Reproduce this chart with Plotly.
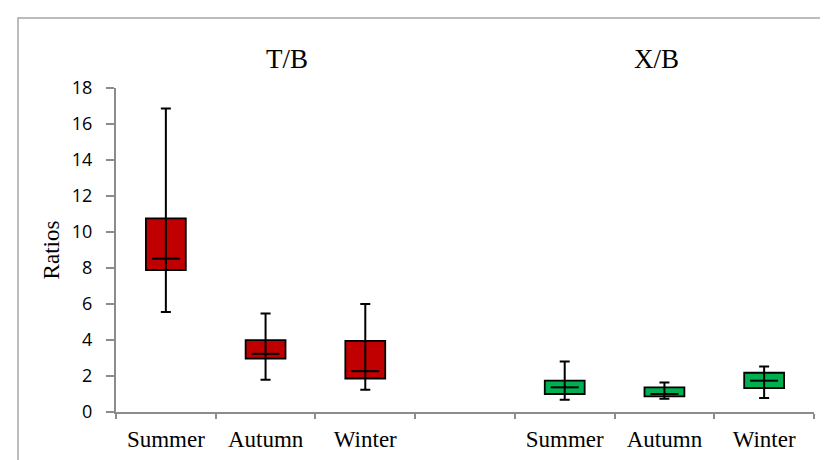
import plotly.graph_objects as go

# ---- data ----
category_ids = ["T-Summer", "T-Autumn", "T-Winter", "gap", "X-Summer", "X-Autumn", "X-Winter"]
tick_labels = ["Summer", "Autumn", "Winter", "", "Summer", "Autumn", "Winter"]
q1 = [7.89, 2.97, 1.86, None, 1.00, 0.87, 1.33]
q3 = [10.76, 3.99, 3.95, None, 1.74, 1.37, 2.18]
median = [8.52, 3.23, 2.27, None, 1.37, 1.00, 1.74]
whisker_low = [5.56, 1.79, 1.24, None, 0.68, 0.74, 0.78]
whisker_high = [16.86, 5.47, 6.00, None, 2.81, 1.64, 2.53]
box_colors = ["#C00000", "#C00000", "#C00000", "#FFFFFF", "#00B050", "#00B050", "#00B050"]
group_titles = ["T/B", "X/B"]
y_ticks = [0, 2, 4, 6, 8, 10, 12, 14, 16, 18]

heights = [None if a is None else b - a for a, b in zip(q1, q3)]
err_plus = [None if m is None else h - m for m, h in zip(median, whisker_high)]
err_minus = [None if m is None else m - l for m, l in zip(median, whisker_low)]

fig = go.Figure()
fig.add_trace(go.Bar(
    x=category_ids, y=heights, base=q1, width=0.4,
    marker=dict(color=box_colors, line=dict(color="black", width=1.8)),
    hoverinfo="skip", showlegend=False,
))
fig.add_trace(go.Scatter(
    x=category_ids, y=median, mode="markers",
    marker=dict(symbol="line-ew", size=20, color="black", line=dict(color="black", width=2)),
    error_y=dict(type="data", symmetric=False, array=err_plus, arrayminus=err_minus,
                 width=5, thickness=2, color="black"),
    showlegend=False,
))

axis_gray = "#8c8c8c"
# page body has an 8px margin, so the figure is drawn 8px in from the window edge
W, H = 820, 452
fig.update_layout(
    width=W, height=H,
    margin=dict(l=108, r=W - 108 - 698, t=80, b=H - 80 - 324),
    paper_bgcolor="white", plot_bgcolor="white",
    xaxis=dict(
        type="category", categoryorder="array", categoryarray=category_ids,
        tickmode="array", tickvals=category_ids, ticktext=tick_labels,
        tickson="boundaries", ticks="outside", ticklen=5, tickcolor=axis_gray, tickwidth=1.5,
        ticklabelstandoff=5, automargin=False,
        showline=True, linecolor=axis_gray, linewidth=2,
        showgrid=False, zeroline=False,
        tickfont=dict(family="Liberation Serif", size=23, color="black"),
        range=[-0.5, 6.5],
    ),
    yaxis=dict(
        range=[0, 18], tickvals=y_ticks, ticks="outside", ticklen=8,
        tickcolor=axis_gray, tickwidth=1.5, ticklabelstandoff=10, automargin=False,
        showline=True, linecolor=axis_gray, linewidth=2,
        showgrid=False, zeroline=False,
        tickfont=dict(family="Open Sans", size=18, color="black"),
        title=dict(text="Ratios", font=dict(family="Liberation Serif", size=23, color="black"), standoff=6),
    ),
    annotations=[
        dict(text=group_titles[0], xref="paper", yref="paper", x=0.245, y=1.0895,
             xanchor="center", yanchor="middle",
             showarrow=False, font=dict(family="Liberation Serif", size=27, color="black")),
        dict(text=group_titles[1], xref="paper", yref="paper", x=0.775, y=1.0895,
             xanchor="center", yanchor="middle",
             showarrow=False, font=dict(family="Liberation Serif", size=27, color="black")),
    ],
    shapes=[
        dict(type="rect", xref="paper", yref="paper", x0=-0.1404, y0=-0.3, x1=1.05, y1=1.2160,
             line=dict(color="#a6a6a6", width=1.5), fillcolor="rgba(0,0,0,0)", layer="below"),
    ],
)

fig.write_html("out.html")
